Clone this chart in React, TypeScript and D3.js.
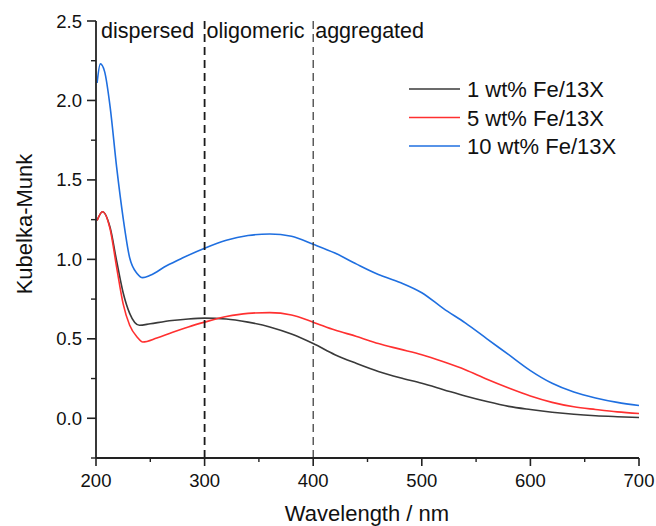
import React from "react";
import * as d3 from "d3";

const wl1 = [201, 206, 213, 219, 225, 231, 240, 250, 270, 285, 300, 320, 340, 360, 380, 400, 420, 440, 460, 480, 500, 520, 540, 560, 580, 600, 620, 640, 660, 680, 700];
const km1 = [1.245, 1.3, 1.2, 0.99, 0.79, 0.66, 0.585, 0.595, 0.615, 0.625, 0.63, 0.625, 0.605, 0.575, 0.53, 0.47, 0.4, 0.345, 0.295, 0.255, 0.22, 0.18, 0.14, 0.105, 0.075, 0.055, 0.038, 0.025, 0.016, 0.01, 0.005];

const wl5 = [201, 206, 213, 219, 225, 231, 238, 243, 256, 270, 285, 300, 320, 340, 360, 380, 400, 420, 440, 460, 480, 500, 520, 540, 560, 580, 600, 620, 640, 660, 680, 700];
const km5 = [1.245, 1.3, 1.19, 0.95, 0.72, 0.585, 0.51, 0.48, 0.505, 0.54, 0.575, 0.605, 0.64, 0.66, 0.665, 0.65, 0.605, 0.555, 0.515, 0.47, 0.435, 0.4, 0.355, 0.305, 0.245, 0.19, 0.14, 0.1, 0.072, 0.055, 0.04, 0.03];

const wl10 = [201, 204, 208, 213, 219, 225, 231, 238, 243, 250, 265, 280, 300, 320, 340, 360, 380, 400, 420, 440, 460, 480, 500, 520, 540, 560, 580, 600, 620, 640, 660, 680, 700];
const km10 = [2.11, 2.23, 2.18, 1.96, 1.58, 1.26, 1.01, 0.91, 0.885, 0.9, 0.96, 1.01, 1.07, 1.12, 1.15, 1.16, 1.145, 1.095, 1.04, 0.97, 0.905, 0.855, 0.79, 0.69, 0.6, 0.5, 0.4, 0.3, 0.22, 0.165, 0.128, 0.1, 0.08];

const seriesNames = ["1 wt% Fe/13X", "5 wt% Fe/13X", "10 wt% Fe/13X"];
const seriesColors = ["#3a3a3a", "#ff3030", "#1f6fe0"];

const xTicks = [200, 300, 400, 500, 600, 700];
const yTicks = [0.0, 0.5, 1.0, 1.5, 2.0, 2.5];
const regionLabels = ["dispersed", "oligomeric", "aggregated"];
const regionLabelX = [200, 300, 400];
const dividers = [300, 400];

export default function App() {
  const W = 656, H = 526;
  const x = d3.scaleLinear().domain([200, 700]).range([96, 639]);
  const y = d3.scaleLinear().domain([-0.25, 2.5]).range([458, 21]);
  const line = d3
    .line<[number, number]>()
    .x((d) => x(d[0]))
    .y((d) => y(d[1]))
    .curve(d3.curveMonotoneX);

  const series = [
    wl1.map((w, i) => [w, km1[i]] as [number, number]),
    wl5.map((w, i) => [w, km5[i]] as [number, number]),
    wl10.map((w, i) => [w, km10[i]] as [number, number]),
  ];

  const xMinor = d3.range(250, 700, 100);
  const yMinor = d3.range(-0.25, 2.5, 0.5);
  const font = "'Liberation Sans', Arial, sans-serif";

  return (
    <svg
      width={W}
      height={H}
      style={{ position: "absolute", left: 0, top: 0, background: "#fff" }}
      fontFamily={font}
    >
      {series.map((s, i) => (
        <path key={i} d={line(s) || ""} fill="none" stroke={seriesColors[i]} strokeWidth={1.6} />
      ))}

      {dividers.map((d, i) => (
        <line
          key={d}
          x1={x(d)}
          x2={x(d)}
          y1={y(2.5)}
          y2={y(-0.25)}
          stroke={i === 0 ? "#1a1a1a" : "#333"}
          strokeWidth={i === 0 ? 1.8 : 1.2}
          strokeDasharray="8,5"
        />
      ))}

      {regionLabels.map((t, i) => (
        <text key={t} x={x(regionLabelX[i]) + (i === 0 ? 5 : 2)} y={38} fontSize={21.5} fill="#111">
          {t}
        </text>
      ))}

      <line x1={x(200)} x2={x(700)} y1={y(-0.25)} y2={y(-0.25)} stroke="#222" strokeWidth={1.8} />
      <line x1={x(200)} x2={x(200)} y1={y(-0.25)} y2={y(2.5)} stroke="#222" strokeWidth={1.8} />
      {xTicks.map((t) => (
        <g key={t}>
          <line x1={x(t)} x2={x(t)} y1={y(-0.25)} y2={y(-0.25) + 8} stroke="#222" strokeWidth={1.6} />
          <text x={x(t)} y={487} fontSize={18.5} textAnchor="middle" fill="#111">
            {t}
          </text>
        </g>
      ))}
      {xMinor.map((t) => (
        <line key={t} x1={x(t)} x2={x(t)} y1={y(-0.25)} y2={y(-0.25) + 4} stroke="#222" strokeWidth={1.4} />
      ))}
      {yTicks.map((t) => (
        <g key={t}>
          <line x1={x(200) - 9} x2={x(200)} y1={y(t)} y2={y(t)} stroke="#222" strokeWidth={1.6} />
          <text x={82} y={y(t) + 6.5} fontSize={18.5} textAnchor="end" fill="#111">
            {t.toFixed(1)}
          </text>
        </g>
      ))}
      {yMinor.map((t) => (
        <line key={t} x1={x(200) - 5} x2={x(200)} y1={y(t)} y2={y(t)} stroke="#222" strokeWidth={1.4} />
      ))}

      <text x={367} y={521} fontSize={22} textAnchor="middle" fill="#111">
        Wavelength / nm
      </text>
      <text transform={`translate(32,224) rotate(-90)`} fontSize={22} textAnchor="middle" fill="#111">
        Kubelka-Munk
      </text>

      {seriesNames.map((n, i) => {
        const cy = 89 + i * 28.5;
        return (
          <g key={n}>
            <line x1={409} x2={460} y1={cy} y2={cy} stroke={seriesColors[i]} strokeWidth={1.6} />
            <text x={467} y={cy + 8} fontSize={22} fill="#111">
              {n}
            </text>
          </g>
        );
      })}
    </svg>
  );
}
